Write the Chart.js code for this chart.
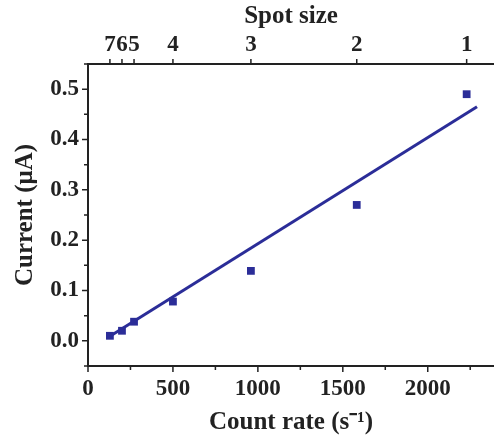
<!DOCTYPE html>
<html>
<head>
<meta charset="utf-8">
<script src="https://cdn.jsdelivr.net/npm/chart.js@4.4.0/dist/chart.umd.min.js"></script>
<style>
  html, body { margin: 0; padding: 0; background: #fff; overflow: hidden; }
  #wrap { width: 494px; height: 436px; }
</style>
</head>
<body>
<div id="wrap"><canvas id="currentChart" width="494" height="436"></canvas></div>
<script>
// measured points (count rate vs current), one per spot size
const countRates = [129, 200, 271, 500, 959, 1582, 2229];
const currents = [0.01, 0.02, 0.038, 0.078, 0.139, 0.27, 0.49];

// spot size labels on the top axis, at the same count rates
const spotLabels = ['7', '6', '5', '4', '3', '2', '1'];

// tick labels
const xTicks = [0, 500, 1000, 1500, 2000];
const yTicks = [0, 0.1, 0.2, 0.3, 0.4, 0.5];

// linear fit line end points
const fitX = [129, 2290];
const fitY = [0.009, 0.465];

const xMin = 0, xMax = 2390;
const yMin = -0.05, yMax = 0.55;

const blue = '#2b2d98';
const serif = "'Liberation Serif', 'Times New Roman', serif";

// draws outward tick marks (major + minor) using the chart's scales
const tickMarks = {
    id: 'tickMarks',
    afterDraw(chart) {
        const ctx = chart.ctx;
        const area = chart.chartArea;
        const x = chart.scales.x, y = chart.scales.y, x2 = chart.scales.x2;
        ctx.save();
        ctx.strokeStyle = '#222';
        ctx.lineWidth = 1.5;
        ctx.beginPath();
        for (let v = 0; v <= 2250; v += 250) {
            const px = x.getPixelForValue(v);
            const len = v % 500 === 0 ? 6 : 4;
            ctx.moveTo(px, area.bottom);
            ctx.lineTo(px, area.bottom + len);
        }
        for (let i = -1; i <= 11; i++) {
            const py = y.getPixelForValue(i * 0.05);
            const len = i % 2 === 0 ? 6 : 4;
            ctx.moveTo(area.left, py);
            ctx.lineTo(area.left - len, py);
        }
        countRates.forEach(v => {
            const px = x2.getPixelForValue(v);
            ctx.moveTo(px, area.top);
            ctx.lineTo(px, area.top - 5);
        });
        ctx.stroke();
        ctx.restore();
    }
};

const tickFont = { family: serif, size: 23, weight: 'bold' };
const titleFont = { family: serif, size: 25, weight: 'bold' };

const ctx = document.getElementById('currentChart').getContext('2d');

const currentChart = new Chart(ctx, {
    type: 'scatter',
    data: {
        datasets: [
            {
                label: 'Fit',
                type: 'line',
                data: fitX.map((v, i) => ({ x: v, y: fitY[i] })),
                borderColor: blue,
                borderWidth: 3,
                pointRadius: 0,
                fill: false
            },
            {
                label: 'Current',
                data: countRates.map((v, i) => ({ x: v, y: currents[i] })),
                pointStyle: 'rect',
                pointRadius: 5.5,
                backgroundColor: blue,
                borderColor: blue,
                borderWidth: 0
            }
        ]
    },
    options: {
        responsive: false,
        animation: false,
        layout: { padding: 0, autoPadding: false },
        plugins: {
            legend: { display: false },
            tooltip: { enabled: false }
        },
        scales: {
            x: {
                type: 'linear',
                position: 'bottom',
                min: xMin,
                max: xMax,
                afterFit(scale) {
                    scale.height = 70;
                    scale.paddingLeft = 0;
                    scale.paddingRight = 0;
                },
                afterBuildTicks(scale) {
                    scale.ticks = xTicks.map(v => ({ value: v }));
                },
                grid: { display: false, drawTicks: false },
                border: { display: true, color: '#222', width: 2 },
                ticks: {
                    autoSkip: false,
                    padding: 9,
                    color: '#222',
                    maxRotation: 0,
                    font: tickFont,
                    callback: v => String(v)
                },
                title: {
                    display: true,
                    text: 'Count rate (s\u207B\u00B9)',
                    color: '#222',
                    padding: { top: 0, bottom: -2 },
                    font: titleFont
                }
            },
            x2: {
                type: 'linear',
                position: 'top',
                min: xMin,
                max: xMax,
                afterFit(scale) {
                    scale.height = 64;
                    scale.paddingLeft = 0;
                    scale.paddingRight = 0;
                },
                afterBuildTicks(scale) {
                    scale.ticks = countRates.map(v => ({ value: v }));
                },
                grid: { display: false, drawTicks: false },
                border: { display: true, color: '#222', width: 2 },
                ticks: {
                    autoSkip: false,
                    padding: 5,
                    color: '#222',
                    maxRotation: 0,
                    font: tickFont,
                    callback: (v, i) => spotLabels[i]
                },
                title: {
                    display: true,
                    text: 'Spot size',
                    color: '#222',
                    padding: { top: 2, bottom: 0 },
                    font: titleFont
                }
            },
            y: {
                type: 'linear',
                position: 'left',
                min: yMin,
                max: yMax,
                afterFit(scale) { scale.width = 88; },
                afterBuildTicks(scale) {
                    scale.ticks = yTicks.map(v => ({ value: v }));
                },
                grid: { display: false, drawTicks: false },
                border: { display: true, color: '#222', width: 2 },
                ticks: {
                    autoSkip: false,
                    padding: 9,
                    color: '#222',
                    font: tickFont,
                    callback: v => v.toFixed(1)
                },
                title: {
                    display: true,
                    text: 'Current (\u03BCA)',
                    color: '#222',
                    padding: { top: 11, bottom: 0 },
                    font: titleFont
                }
            }
        }
    },
    plugins: [tickMarks]
});
</script>
</body>
</html>
